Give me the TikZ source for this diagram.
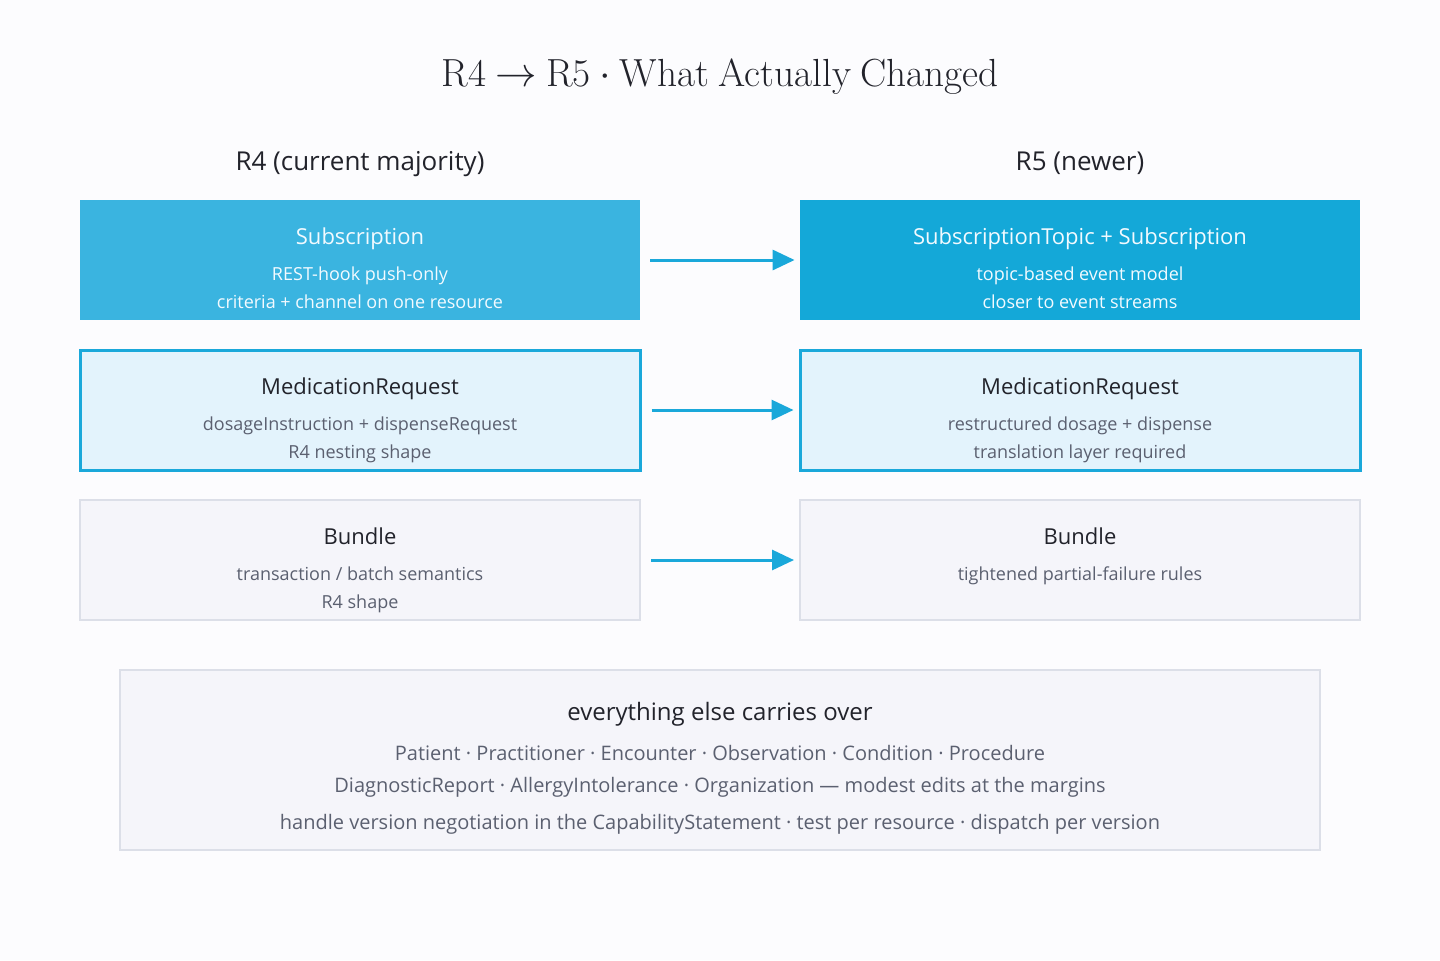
\documentclass[tikz,border=0pt]{standalone}
\usepackage{fontspec}
\newfontfamily\osans{Open Sans}
\usetikzlibrary{arrows.meta}
\definecolor{bgc}{HTML}{FCFCFE}
\definecolor{blueA}{HTML}{3AB4E0}
\definecolor{blueB}{HTML}{14A8D8}
\definecolor{medfill}{HTML}{E3F3FC}
\definecolor{medline}{HTML}{1AA8DA}
\definecolor{grayfill}{HTML}{F5F5FA}
\definecolor{grayline}{HTML}{DCDFE8}
\definecolor{darktext}{HTML}{22232B}
\definecolor{graytext}{HTML}{5B6070}
\definecolor{whitetext}{HTML}{F2FAFF}
\definecolor{arrowc}{HTML}{1AA8DA}
\begin{document}
\begin{tikzpicture}[x=0.5pt,y=-0.5pt,
  box/.style={rectangle,inner sep=0pt,minimum width=280pt,minimum height=60pt},
  subbox/.style={box,fill=blueA},
  subboxr/.style={box,fill=blueB},
  medbox/.style={box,fill=medfill,draw=medline,line width=1.5pt},
  graybox/.style={box,fill=grayfill,draw=grayline,line width=1pt},
  head/.style={font=\osans\fontsize{11}{13}\selectfont,anchor=base,inner sep=0pt},
  sub/.style={font=\osans\fontsize{9}{10}\selectfont,anchor=base,inner sep=0pt},
  botline/.style={font=\osans\fontsize{10}{12}\selectfont,anchor=base,inner sep=0pt,text=graytext},
  colhead/.style={font=\osans\fontsize{13}{15}\selectfont,anchor=base,inner sep=0pt,text=darktext},
  conn/.style={draw=arrowc,line width=1.5pt,-{Triangle[length=11pt,width=10pt]},shorten <=5pt,shorten >=2.5pt}
]
\useasboundingbox[fill=bgc] (0,0) rectangle (1440,960);

\node[font=\fontsize{19.6}{24}\selectfont,anchor=base,text=darktext,inner sep=0pt] (title) at (720,86) {\spaceskip=0.24em R4 $\rightarrow$ R5\kern0.22em$\cdot$\kern0.22em What Actually Changed};

\node[colhead] (h4) at (360,170) {R4 (current majority)};
\node[colhead] (h5) at (1080,170) {R5 (newer)};

% Row 1
\node[subbox] (s4) at (360,260) {};
\node[subboxr] (s5) at (1080,260) {};
\node[head,text=whitetext] (s4t) at (360,244) {Subscription};
\node[sub,text=whitetext] (s4a) at (360,280) {REST-hook push-only};
\node[sub,text=whitetext] (s4b) at (360,308) {criteria + channel on one resource};
\node[head,text=whitetext] (s5t) at (1080,244) {SubscriptionTopic + Subscription};
\node[sub,text=whitetext] (s5a) at (1080,280) {topic-based event model};
\node[sub,text=whitetext] (s5b) at (1080,308) {closer to event streams};

% Row 2
\node[medbox] (m4) at (360,410) {};
\node[medbox] (m5) at (1080,410) {};
\node[head,text=darktext] (m4t) at (360,394) {MedicationRequest};
\node[sub,text=graytext] (m4a) at (360,430) {dosageInstruction + dispenseRequest};
\node[sub,text=graytext] (m4b) at (360,458) {R4 nesting shape};
\node[head,text=darktext] (m5t) at (1080,394) {MedicationRequest};
\node[sub,text=graytext] (m5a) at (1080,430) {restructured dosage + dispense};
\node[sub,text=graytext] (m5b) at (1080,458) {translation layer required};

% Row 3
\node[graybox] (b4) at (360,560) {};
\node[graybox] (b5) at (1080,560) {};
\node[head,text=darktext] (b4t) at (360,544) {Bundle};
\node[sub,text=graytext] (b4a) at (360,580) {transaction / batch semantics};
\node[sub,text=graytext] (b4b) at (360,608) {R4 shape};
\node[head,text=darktext] (b5t) at (1080,544) {Bundle};
\node[sub,text=graytext] (b5a) at (1080,580) {tightened partial-failure rules};

% Arrows
\draw[conn] (s4.east) -- (s5.west);
\draw[conn] (m4.east) -- (m5.west);
\draw[conn] (b4.east) -- (b5.west);

% Bottom box
\node[graybox,minimum width=600pt,minimum height=90pt] (all) at (720,760) {};
\node[font=\osans\fontsize{12}{14}\selectfont,anchor=base,inner sep=0pt,text=darktext] (allt) at (720,720) {everything else carries over};
\node[botline] (all1) at (720,760) {Patient · Practitioner · Encounter · Observation · Condition · Procedure};
\node[botline] (all2) at (720,792) {DiagnosticReport · AllergyIntolerance · Organization — modest edits at the margins};
\node[botline] (all3) at (720,829) {handle version negotiation in the CapabilityStatement · test per resource · dispatch per version};
\end{tikzpicture}
\end{document}
